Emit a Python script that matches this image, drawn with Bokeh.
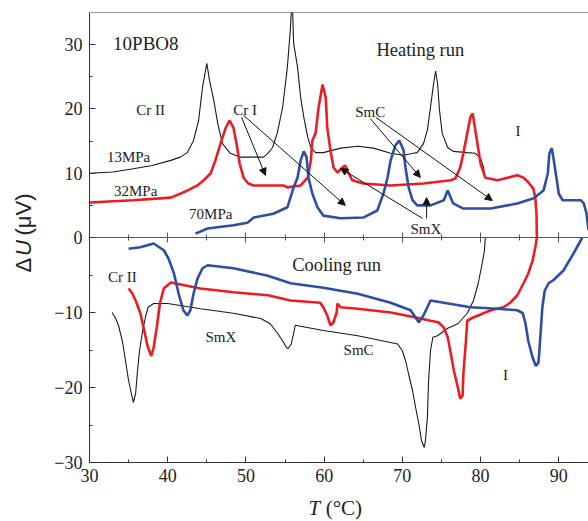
import math
from bokeh.plotting import figure
from bokeh.models import Range1d, LinearAxis, FixedTicker, Label, Arrow, NormalHead
from bokeh.embed import file_html
from bokeh.resources import INLINE

# ---------------- data (T in °C, ΔU in µV) ----------------
# Heating run, 13 MPa (black)
h13_T = [30, 33, 35.6, 38, 40.4, 41.6, 42.5, 43.3, 43.95, 44.45, 45.0, 45.35, 45.9, 46.4, 47.0,
         48.0, 49.3, 52.25, 52.8, 53.4, 54.0, 54.7, 55.3, 55.7, 55.9, 56.1, 56.6, 57.0, 57.4,
         57.9, 58.3, 58.9, 59.9, 62.1, 64.3, 66.3, 68.5, 70.15, 71.4, 71.9, 72.7, 73.2, 73.6,
         74.0, 74.25, 74.5, 74.75, 75.1, 75.8, 76.5, 78.3, 79.35, 80.0, 80.4, 80.5]
h13_U = [10.0, 10.2, 10.7, 11.2, 12.0, 12.5, 13.2, 15.1, 18.2, 23.4, 27.1, 24.4, 21.3, 17.7, 14.6,
         13.1, 12.5, 12.5, 13.1, 14.0, 16.2, 20.3, 26.5, 32.7, 38.0, 30.2, 26.5, 21.8, 18.7,
         15.6, 14.0, 13.2, 13.2, 13.9, 14.2, 13.9, 13.1, 12.8, 13.1, 13.2, 14.6, 16.7, 20.3,
         24.0, 25.9, 24.0, 19.8, 16.2, 14.0, 13.4, 13.2, 13.1, 12.3, 10.9, 9.7]
# Heating run, 32 MPa (red)
h32_T = [30, 35.6, 40.4, 41.6, 42.5, 43.8, 44.6, 45.5, 46.1, 46.75, 47.4, 47.9, 48.4, 48.8,
         49.2, 49.7, 50.3, 51.0, 54.8, 55.3, 57.0, 57.9, 58.3, 58.5, 58.9, 59.3, 59.8, 60.2,
         60.4, 60.8, 61.2, 61.7, 62.35, 62.7, 63.1, 63.6, 65.0, 68.5, 72.7, 76.2, 76.8, 77.4,
         77.8, 78.3, 78.7, 79.0, 79.2, 79.6, 80.0, 80.6, 82.2, 84.7, 85.5, 86.1, 86.75, 87.0,
         87.15, 87.2]
h32_U = [5.45, 5.8, 6.2, 6.8, 7.3, 8.1, 8.9, 10.0, 12.0, 14.6, 17.0, 18.2, 17.1, 14.6,
         11.5, 9.3, 8.4, 8.1, 8.1, 7.8, 8.1, 9.3, 12.0, 15.1, 16.2, 20.3, 23.8, 21.8,
         17.1, 13.6, 10.9, 10.1, 10.9, 11.2, 10.1, 8.9, 8.4, 8.1, 8.4, 8.9, 9.2, 10.9,
         13.1, 16.2, 18.7, 19.3, 17.7, 14.6, 11.5, 9.3, 8.9, 9.7, 9.3, 8.6, 7.6, 6.2,
         3.7, 0.0]
# Heating run, 70 MPa (blue)
h70_T = [43.55, 45.1, 48.4, 50.2, 51.0, 53.5, 55.3, 56.1, 56.6, 57.0, 57.4, 57.75, 58.0, 58.5,
         59.15, 59.9, 62.1, 65.0, 66.8, 67.6, 68.1, 68.5, 69.1, 69.6, 70.15, 70.4, 70.8, 71.3,
         71.9, 73.6, 75.3, 75.8, 76.5, 77.8, 81.3, 84.7, 86.8, 88.05, 88.6, 88.8, 89.1, 89.3,
         89.7, 90.0, 90.5, 91.5, 92.8, 93.2, 93.55, 93.8]
h70_U = [0.6, 1.4, 1.9, 2.3, 3.1, 3.7, 4.7, 7.8, 9.3, 12.0, 13.4, 12.5, 9.3, 6.8,
         4.7, 3.4, 3.0, 3.1, 4.2, 6.9, 9.3, 12.0, 14.3, 15.1, 13.6, 10.9, 7.8, 5.8,
         5.0, 5.0, 5.8, 7.3, 5.3, 4.5, 4.5, 5.3, 6.1, 7.3, 10.0, 13.1, 13.9, 12.5,
         9.3, 6.8, 5.8, 5.8, 5.8, 5.3, 3.7, 1.1]

# Cooling run, 13 MPa (black)
c13_T = [32.9, 33.3, 33.7, 34.2, 34.6, 35.0, 35.5, 35.6, 35.9, 36.1, 36.4, 36.8, 37.2, 37.5,
         38.2, 40.0, 44.2, 48.4, 51.9, 53.1, 54.0, 54.7, 55.2, 55.4, 55.8, 56.1, 56.3, 59.9,
         64.3, 69.4, 70.0, 70.4, 70.8, 71.3, 71.7, 72.1, 72.45, 72.8, 72.95, 73.2, 73.35, 73.6,
         73.9, 74.5, 75.8, 77.1, 78.3, 79.1, 79.7, 80.2, 80.5, 80.6]
c13_U = [-10.0, -10.7, -11.7, -13.8, -16.4, -19.1, -21.5, -22.0, -20.8, -18.2, -15.1, -12.4, -10.4, -9.3,
         -8.8, -8.8, -9.5, -10.1, -10.8, -11.5, -12.7, -13.8, -14.7, -14.8, -14.2, -12.8, -11.7, -12.4,
         -13.1, -14.2, -15.1, -16.4, -18.2, -20.4, -22.7, -24.8, -27.1, -28.0, -27.1, -24.0, -19.1, -15.1,
         -13.3, -13.1, -12.1, -11.5, -10.1, -8.4, -6.1, -3.5, -1.7, 0.0]
# Cooling run, 32 MPa (red)
c32_T = [35.0, 35.5, 35.9, 36.5, 37.0, 37.4, 37.9, 38.2, 38.6, 39.0, 39.5, 40.4, 44.2, 48.4,
         52.8, 55.7, 59.5, 59.9, 60.4, 60.8, 61.2, 61.6, 61.7, 62.1, 64.3, 68.5, 71.9, 73.6,
         74.6, 75.3, 75.8, 76.2, 76.6, 77.1, 77.4, 77.7, 77.8, 78.1, 78.3, 79.0, 81.3, 82.9,
         83.8, 84.7, 85.5, 86.1, 86.65, 87.0, 87.2]
c32_U = [-6.8, -7.5, -8.4, -10.1, -12.4, -14.4, -15.8, -14.7, -12.0, -8.8, -6.8, -6.0, -6.8, -7.3,
         -7.7, -8.4, -8.7, -9.3, -10.4, -11.7, -11.3, -10.0, -8.8, -9.3, -9.5, -10.0, -10.7, -11.1,
         -11.3, -12.0, -13.3, -15.5, -17.8, -20.0, -21.5, -21.1, -18.2, -14.2, -11.1, -10.7, -9.7, -9.3,
         -8.7, -7.7, -6.1, -4.8, -3.1, -1.3, 0.0]
# Cooling run, 70 MPa (blue)
c70_T = [35.0, 36.5, 38.2, 39.5, 40.1, 40.8, 41.4, 42.0, 42.5, 42.9, 43.3, 43.8, 44.45, 45.1,
         48.4, 52.8, 55.7, 59.9, 64.3, 68.5, 71.05, 72.1, 72.7, 73.6, 75.3, 78.7, 82.2, 84.7,
         85.4, 85.75, 86.1, 86.65, 87.05, 87.4, 87.55, 87.9, 88.2, 88.7, 89.3, 90.6, 91.9, 92.8,
         93.0]
c70_U = [-1.5, -1.3, -0.8, -1.7, -2.8, -4.8, -7.5, -9.7, -10.4, -9.7, -7.5, -5.5, -4.1, -3.7,
         -4.1, -5.1, -6.1, -6.7, -7.5, -8.7, -9.7, -11.3, -10.4, -8.4, -8.7, -9.3, -9.5, -9.7,
         -10.1, -11.5, -13.8, -16.0, -17.1, -16.7, -14.7, -9.3, -7.1, -6.1, -5.7, -4.4, -2.1, -0.4,
         0.0]

# ticks
x_ticks = [30, 40, 50, 60, 70, 80, 90]
x_minor = [35, 45, 55, 65, 75, 85]
heat_ticks = [0, 10, 20, 30]
heat_minor = [5, 15, 25]
cool_ticks = [-30, -20, -10]
cool_minor = [-25, -15, -5]

T_MIN, T_MAX = 30.0, 93.8
HEAT_MAX = 35.0   # heating panel 0..35 (upper half)
COOL_MIN = -30.0  # cooling panel -30..0 (lower half)

# ---------------- layout (pixels) ----------------
W, H = 588, 521
PX_LEFT, PX_TOP, PX_ZERO, PX_BOTTOM = 89, 12, 237, 462
kx = (W - PX_LEFT) / (T_MAX - T_MIN)
k_heat = (PX_ZERO - PX_TOP) / HEAT_MAX
k_cool = (PX_BOTTOM - PX_ZERO) / (-COOL_MIN)
x_lo = T_MIN - PX_LEFT / kx
heat_lo = -(H - PX_ZERO) / k_heat
cool_lo = -(H - PX_ZERO) / k_cool
cool_hi = (PX_ZERO - PX_TOP) / k_cool
scale = k_cool / k_heat   # cooling value -> heating-axis coordinate

p = figure(width=W, height=H, output_backend="svg", toolbar_location=None,
           x_range=Range1d(x_lo, T_MAX), y_range=Range1d(heat_lo, HEAT_MAX),
           x_axis_type=None, y_axis_type=None,
           min_border_left=0, min_border_right=0, min_border_top=PX_TOP, min_border_bottom=0)
p.extra_y_ranges = {"cool": Range1d(cool_lo, cool_hi)}
p.outline_line_color = None
p.background_fill_color = "white"
p.border_fill_color = "white"

SERIF = "Liberation Serif"
SANS = "Liberation Sans"
AX_COL = "#333333"
TXT_COL = "#222222"

def tick_style(ax, tin, tout, mtin, mtout, col):
    ax.major_tick_in = tin
    ax.major_tick_out = tout
    ax.minor_tick_in = mtin
    ax.minor_tick_out = mtout
    ax.axis_line_color = col
    ax.major_tick_line_color = col
    ax.minor_tick_line_color = col

# bottom x axis (at ΔU = -30 of cooling panel)
xa = LinearAxis(ticker=FixedTicker(ticks=x_ticks, minor_ticks=x_minor),
                fixed_location=COOL_MIN * scale, bounds=(T_MIN, T_MAX),
                major_label_standoff=6, major_label_text_font=SERIF,
                major_label_text_font_size="18px", major_label_text_color=TXT_COL)
tick_style(xa, 6, 0, 3, 0, AX_COL)
p.add_layout(xa, "below")

# axis line with ticks along ΔU = 0
mid = LinearAxis(ticker=FixedTicker(ticks=x_ticks, minor_ticks=x_minor), fixed_location=0,
                 bounds=(T_MIN, T_MAX), major_label_text_font_size="0px",
                 major_label_text_alpha=0)
tick_style(mid, 5, 5, 3, 3, "#555555")
p.add_layout(mid, "below")

# top frame line
top = LinearAxis(ticker=FixedTicker(ticks=[], minor_ticks=[]), fixed_location=HEAT_MAX,
                 bounds=(T_MIN, T_MAX), major_label_text_font_size="0px",
                 major_label_text_alpha=0)
tick_style(top, 0, 0, 0, 0, AX_COL)
p.add_layout(top, "above")

# left y axis: heating ticks on upper half, cooling ticks mapped onto lower half
y_major = [float(v) for v in heat_ticks] + [v * scale for v in cool_ticks]
y_minor = [float(v) for v in heat_minor] + [v * scale for v in cool_minor]
overrides = {float(v): str(v) for v in heat_ticks}
overrides.update({v * scale: "\u2212" + str(-v) for v in cool_ticks})
ya = LinearAxis(ticker=FixedTicker(ticks=y_major, minor_ticks=y_minor),
                major_label_overrides=overrides, fixed_location=T_MIN,
                bounds=(COOL_MIN * scale, HEAT_MAX),
                major_label_standoff=7, major_label_text_font=SERIF,
                major_label_text_font_size="18px", major_label_text_color=TXT_COL)
tick_style(ya, 6, 0, 3, 0, AX_COL)
p.add_layout(ya, "left")

BLACK = "#1a1a1a"
RED = "#ec1c24"
BLUE = "#2c4ea3"

# heating curves
p.line(h13_T, h13_U, line_color=BLACK, line_width=1.1)
p.line(h32_T, h32_U, line_color=RED, line_width=2.6)
p.line(h70_T, h70_U, line_color=BLUE, line_width=2.6)
# cooling curves
p.line(c13_T, c13_U, line_color=BLACK, line_width=1.1, y_range_name="cool")
p.line(c32_T, c32_U, line_color=RED, line_width=2.6, y_range_name="cool")
p.line(c70_T, c70_U, line_color=BLUE, line_width=2.6, y_range_name="cool")

# annotations
def lab(x, y, t, size="15px", rng="default", style="normal", align="center", font=SERIF,
        angle=0.0, baseline="middle"):
    p.add_layout(Label(x=x, y=y, text=t, text_font=font, text_font_size=size,
                       text_color=TXT_COL, text_align=align, text_baseline=baseline,
                       text_font_style=style, y_range_name=rng, angle=angle))

heat_labels = [(37.2, 30.2, "10PBO8", "19px"), (72.3, 29.1, "Heating run", "18.5px"),
               (37.8, 19.9, "Cr II", "15px"), (49.9, 19.8, "Cr I", "15px"),
               (65.9, 19.5, "SmC", "15px"), (84.8, 16.6, "I", "15px"),
               (35.0, 12.6, "13MPa", "15px"), (35.9, 7.2, "32MPa", "15px"),
               (45.5, 3.7, "70MPa", "15px"), (73.0, 1.25, "SmX", "15px")]
for x, y, t, s in heat_labels:
    lab(x, y, t, s)
cool_labels = [(61.6, -3.6, "Cooling run", "18.5px"), (34.2, -5.3, "Cr II", "15px"),
               (46.8, -13.2, "SmX", "15px"), (64.4, -15.0, "SmC", "15px"),
               (83.2, -18.3, "I", "15px")]
for x, y, t, s in cool_labels:
    lab(x, y, t, s, rng="cool")

arrows = [(49.44, 18.7, 52.5, 9.66), (49.7, 19.0, 62.7, 5.0), (72.6, 2.96, 62.1, 10.75),
          (73.1, 2.96, 73.1, 6.2), (65.9, 18.5, 72.3, 9.35), (66.6, 18.7, 81.5, 5.76)]
for xs, ys, xe, ye in arrows:
    p.add_layout(Arrow(x_start=xs, y_start=ys, x_end=xe, y_end=ye, line_color="#111111",
                       line_width=1,
                       end=NormalHead(size=7, fill_color="#111111", line_color="#111111",
                                      line_width=1)))

# axis titles
lab(58.0, -42.15, "T", "21px", style="italic", align="left")
lab(60.2, -42.15, "(°C)", "21px", align="left")
lab(21.56, -5.44, "\u0394", "22px", font=SANS, align="left", angle=math.pi / 2)
lab(21.56, -2.88, "U", "22px", font=SANS, align="left", angle=math.pi / 2, style="italic")
lab(21.56, 0.31, "(\u03bcV)", "22px", font=SANS, align="left", angle=math.pi / 2)

open("out.html", "w").write(file_html(p, INLINE))
